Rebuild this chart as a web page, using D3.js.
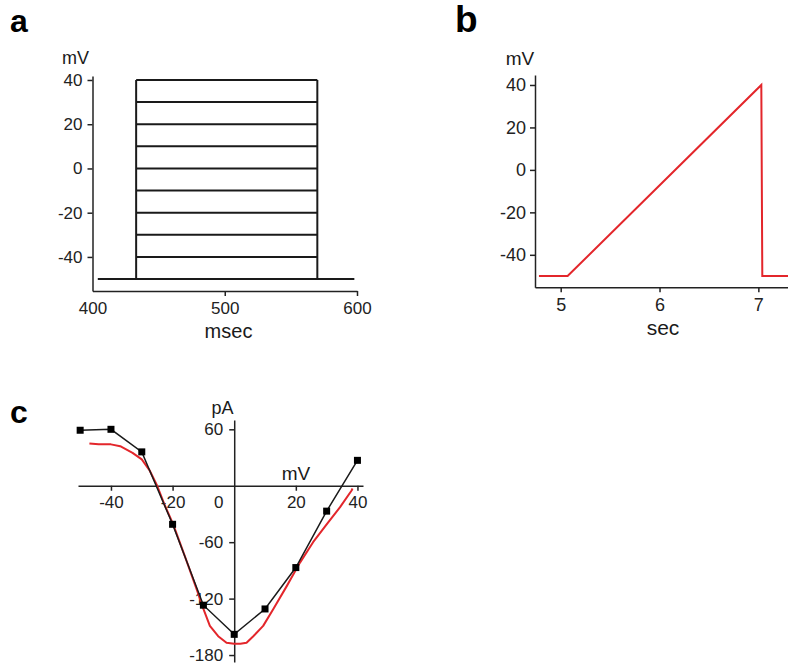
<!DOCTYPE html>
<html>
<head>
<meta charset="utf-8">
<script src="https://cdn.jsdelivr.net/npm/d3@7"></script>
<style>
  html, body { margin: 0; padding: 0; background: #fff; }
  svg { display: block; font-family: "Liberation Sans", Arial, Helvetica, sans-serif; }
  .axis path, .axis line { stroke: #222; stroke-width: 1.5; }
  .axis text { fill: #222; }
</style>
</head>
<body>
<svg id="chart" width="788" height="666"></svg>
<script>
// ---------- Panel a: voltage step protocol ----------
const aStepLevels = [-40, -30, -20, -10, 0, 10, 20, 30, 40];   // mV
const aHolding = -50;                                         // mV
const aStepOn = 433, aStepOff = 570;                          // msec
const aBaseStart = 404, aBaseEnd = 598;                       // msec
const aXTicks = [400, 500, 600];
const aYTicks = [-40, -20, 0, 20, 40];

// ---------- Panel b: voltage ramp protocol ----------
const bTime = [4.78, 5.07, 7.03, 7.04, 7.30];   // sec
const bVolt = [-50, -50, 40, -50, -50];         // mV
const bXTicks = [5, 6, 7];
const bYTicks = [-40, -20, 0, 20, 40];

// ---------- Panel c: I-V relations ----------
const cStepV = [-50, -40, -30, -20, -10, 0, 10, 20, 30, 40];        // mV
const cStepI = [59, 60, 36, -41, -127, -158, -131, -87, -27, 27];    // pA
const cRampV = [-47, -44, -40, -37, -33, -30, -27.4, -25, -22.5, -19.8, -16, -12.2, -10, -7.9, -5.2, -2.5, 0, 2, 4, 6.2, 9.4, 12.7, 17, 21.3, 25.6, 30, 34.3, 38.1, 38.4];
const cRampI = [45, 44, 44, 42, 35, 28, 16, 0, -21, -41, -75, -110, -131, -149, -160, -167, -168, -168, -167, -160, -149, -131, -107, -82, -60, -41, -23, -5, -3];
const cXTicks = [-40, -20, 0, 20, 40];
const cYTicks = [60, -60, -120, -180];

const RED = "#e3262b";
const INK = "#1a1a1a";
const FONT = "'Liberation Sans', Arial, Helvetica, sans-serif";
const fmt = d => String(d);
const svg = d3.select("#chart");

function panelLetter(txt, x, y, size) {
  svg.append("text").attr("x", x).attr("y", y)
    .attr("font-size", size).attr("font-weight", "bold").attr("fill", "#000").text(txt);
}
function title(txt, x, y, size) {
  svg.append("text").attr("x", x).attr("y", y).attr("text-anchor", "middle")
    .attr("font-size", size).attr("fill", INK).text(txt);
}
function styleAxis(sel, size) {
  sel.attr("font-family", FONT).attr("font-size", size);
  sel.selectAll("text").attr("font-size", size);
}

// ===== Panel a =====
{
  const x = d3.scaleLinear().domain([400, 600]).range([92.5, 357]);
  const y = d3.scaleLinear().domain([-55.4, 41.8]).range([291, 76]);
  const g = svg.append("g");

  const ya = g.append("g").attr("class", "axis").attr("transform", `translate(${x(400)},0)`)
    .call(d3.axisLeft(y).tickValues(aYTicks).tickFormat(fmt).tickSize(5).tickPadding(5).tickSizeOuter(0));
  styleAxis(ya, 17);
  const xa = g.append("g").attr("class", "axis").attr("transform", `translate(0,${y.range()[0]})`)
    .call(d3.axisBottom(x).tickValues(aXTicks).tickFormat(fmt).tickSize(5).tickPadding(6).tickSizeOuter(0));
  styleAxis(xa, 17);
  xa.selectAll(".tick").filter(d => d === 400).select("line").remove();

  const ln = g.append("g").attr("stroke", INK).attr("stroke-width", 2).attr("fill", "none");
  ln.selectAll("line.step").data(aStepLevels).join("line").attr("class", "step")
    .attr("x1", x(aStepOn)).attr("x2", x(aStepOff))
    .attr("y1", d => y(d)).attr("y2", d => y(d));
  ln.append("line").attr("x1", x(aBaseStart)).attr("x2", x(aBaseEnd))
    .attr("y1", y(aHolding)).attr("y2", y(aHolding));
  [aStepOn, aStepOff].forEach(t => {
    ln.append("line").attr("x1", x(t)).attr("x2", x(t))
      .attr("y1", y(aHolding)).attr("y2", y(d3.max(aStepLevels)));
  });

  title("mV", 75.5, 64, 18);
  title("msec", 228.5, 338, 20);
  panelLetter("a", 10, 31.5, 32);
}

// ===== Panel b =====
{
  const x = d3.scaleLinear().domain([4.74, 7.30]).range([535, 788]);
  const y = d3.scaleLinear().domain([-55.3, 44.7]).range([287.3, 75]);
  const g = svg.append("g");

  const ya = g.append("g").attr("class", "axis").attr("transform", `translate(${x.range()[0]},0)`)
    .call(d3.axisLeft(y).tickValues(bYTicks).tickFormat(fmt).tickSize(5).tickPadding(4).tickSizeOuter(0));
  styleAxis(ya, 18);
  const xa = g.append("g").attr("class", "axis").attr("transform", `translate(0,${y.range()[0]})`)
    .call(d3.axisBottom(x).tickValues(bXTicks).tickFormat(fmt).tickSize(5).tickPadding(6).tickSizeOuter(0));
  styleAxis(xa, 18);

  const line = d3.line().x((d, i) => x(bTime[i])).y((d, i) => y(bVolt[i]));
  g.append("path").datum(bVolt).attr("d", line)
    .attr("fill", "none").attr("stroke", RED).attr("stroke-width", 2).attr("stroke-linejoin", "miter");

  title("mV", 520, 65, 19);
  title("sec", 663, 335, 21);
  panelLetter("b", 455, 32.3, 37);
}

// ===== Panel c =====
{
  const x = d3.scaleLinear().domain([-50.7, 41.8]).range([78, 363]);
  const y = d3.scaleLinear().domain([-187.4, 69.9]).range([662, 420]);
  const g = svg.append("g");

  const xa = g.append("g").attr("class", "axis").attr("transform", `translate(0,${y(0)})`)
    .call(d3.axisBottom(x).tickValues(cXTicks).tickFormat(fmt).tickSize(5).tickPadding(5.5).tickSizeOuter(0));
  styleAxis(xa, 17);
  xa.selectAll(".tick").filter(d => d === 0).select("text").attr("dx", -16);
  xa.selectAll(".tick").filter(d => d === 0).select("line").remove();

  const ya = g.append("g").attr("class", "axis").attr("transform", `translate(${x(0)},0)`)
    .call(d3.axisLeft(y).tickValues(cYTicks).tickFormat(fmt).tickSize(5).tickPadding(6).tickSizeOuter(0));
  styleAxis(ya, 17);

  const ramp = d3.line().x((d, i) => x(cRampV[i])).y((d, i) => y(cRampI[i]));
  g.append("path").datum(cRampI).attr("d", ramp)
    .attr("fill", "none").attr("stroke", RED).attr("stroke-width", 2).attr("stroke-linejoin", "round");

  const step = d3.line().x((d, i) => x(cStepV[i])).y((d, i) => y(cStepI[i]));
  g.append("path").datum(cStepI).attr("d", step)
    .attr("fill", "none").attr("stroke", INK).attr("stroke-width", 1.5);

  const sz = 7;
  g.selectAll("rect.pt").data(cStepI).join("rect").attr("class", "pt")
    .attr("x", (d, i) => x(cStepV[i]) - sz / 2).attr("y", d => y(d) - sz / 2)
    .attr("width", sz).attr("height", sz).attr("fill", "#000");

  title("mV", 296, 480, 19);
  title("pA", 222.5, 414, 18);
  panelLetter("c", 10, 423.3, 32);
}
</script>
</body>
</html>
